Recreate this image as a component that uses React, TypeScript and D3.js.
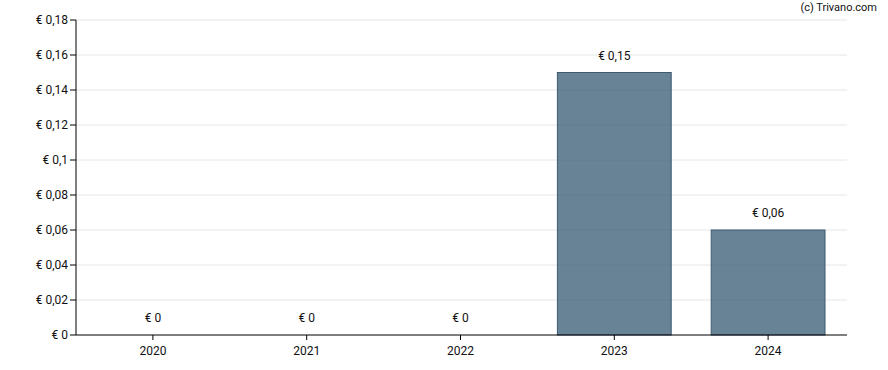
import React from 'react';
import * as d3 from 'd3';

const years = ['2020', '2021', '2022', '2023', '2024'];
const dividends = [0, 0, 0, 0.15, 0.06];
const yTicks = [0, 0.02, 0.04, 0.06, 0.08, 0.1, 0.12, 0.14, 0.16, 0.18];

const width = 888;
const height = 370;
const margin = { top: 20, right: 43, bottom: 35, left: 76 };

const fmt = (v: number) => '€ ' + String(+v.toFixed(2)).replace('.', ',');

export default function App() {
  const x = d3.scaleBand().domain(years).range([margin.left, width - margin.right]).paddingInner(0.26).paddingOuter(0.13);
  const y = d3.scaleLinear().domain([0, 0.18]).range([height - margin.bottom, margin.top]);
  const font = 'Roboto, "Noto Sans", sans-serif';

  return (
    <svg width={width} height={height} style={{ position: 'absolute', left: 0, top: 0 }} fontFamily={font}>
      {/* gridlines */}
      {yTicks.slice(1).map(t => (
        <line key={t} x1={margin.left} x2={width - margin.right + 2} y1={y(t)} y2={y(t)} stroke="#e6e6e6" strokeWidth={1} />
      ))}
      {/* bars */}
      {years.map((yr, i) => {
        const v = dividends[i];
        if (v <= 0) return null;
        return (
          <rect key={yr} x={x(yr)!} y={y(v)} width={x.bandwidth()} height={y(0) - y(v)}
            fill="#3e5f78" fillOpacity={0.78} stroke="#3e5a70" strokeWidth={1} />
        );
      })}
      {/* value labels */}
      {years.map((yr, i) => (
        <text key={yr} x={x(yr)! + x.bandwidth() / 2} y={y(dividends[i]) - 13} textAnchor="middle" fontSize={12} fill="#111">
          {fmt(dividends[i])}
        </text>
      ))}
      {/* y axis */}
      <line x1={margin.left} x2={margin.left} y1={margin.top} y2={y(0)} stroke="#000" />
      {yTicks.map(t => (
        <g key={t}>
          <line x1={margin.left - 6} x2={margin.left} y1={y(t)} y2={y(t)} stroke="#000" />
          <text x={margin.left - 8} y={y(t)} dy="0.35em" textAnchor="end" fontSize={12} fill="#111">{fmt(t)}</text>
        </g>
      ))}
      {/* x axis */}
      <line x1={margin.left} x2={width - margin.right + 2} y1={y(0)} y2={y(0)} stroke="#000" />
      {years.map(yr => {
        const cx = x(yr)! + x.bandwidth() / 2;
        return (
          <g key={yr}>
            <line x1={cx} x2={cx} y1={y(0)} y2={y(0) + 5} stroke="#000" />
            <text x={cx} y={y(0) + 20} textAnchor="middle" fontSize={12} fill="#111">{yr}</text>
          </g>
        );
      })}
      <text x={877} y={11} textAnchor="end" fontSize={11} fill="#111">(c) Trivano.com</text>
    </svg>
  );
}
